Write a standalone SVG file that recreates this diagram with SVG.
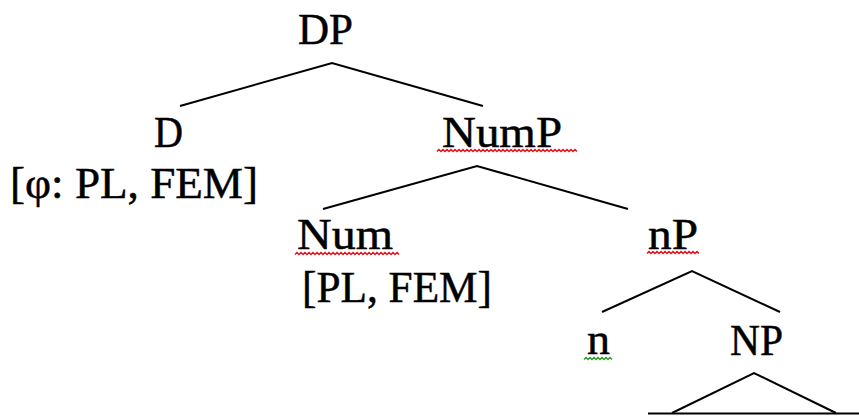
<svg xmlns="http://www.w3.org/2000/svg" width="859" height="417" viewBox="0 0 859 417">
  <style>
    text { font-family: "Liberation Serif", "DejaVu Serif", serif; font-size: 45px; fill: #000; stroke: #000; stroke-width: 0.5; }
    .edge { fill: none; stroke: #000; stroke-width: 2; stroke-linecap: butt; stroke-linejoin: miter; }
    .spell { fill: none; stroke: #e3141e; stroke-width: 1.5; }
    .gram { fill: none; stroke: #2e9a2e; stroke-width: 1.5; }
  </style>
  <rect width="859" height="417" fill="#fff"/>

  <!-- branches -->
  <g id="connectors">
    <path class="edge" d="M180,106 L332,63 L483,106"/>
    <path class="edge" d="M323,209 L477,166 L628,209"/>
    <path class="edge" d="M602,312 L692,271 L780,312"/>
    <path class="edge" d="M672,413 L754,373 L836,413"/>
    <path class="edge" d="M648,413.5 L859,413.5" stroke-width="2.5"/>
  </g>

  <g id="node-DP">
    <text x="298" y="44" textLength="55" lengthAdjust="spacingAndGlyphs">DP</text>
  </g>

  <g id="node-D">
    <text x="154" y="147" textLength="29" lengthAdjust="spacingAndGlyphs">D</text>
    <text x="10" y="198" textLength="248" lengthAdjust="spacingAndGlyphs">[φ: PL, FEM]</text>
  </g>

  <g id="node-NumP">
    <text x="442" y="147" textLength="120" lengthAdjust="spacingAndGlyphs">NumP</text>
    <path class="spell" d="M437,151.5 l2,-2 2,2 2,-2 2,2 2,-2 2,2 2,-2 2,2 2,-2 2,2 2,-2 2,2 2,-2 2,2 2,-2 2,2 2,-2 2,2 2,-2 2,2 2,-2 2,2 2,-2 2,2 2,-2 2,2 2,-2 2,2 2,-2 2,2 2,-2 2,2 2,-2 2,2 2,-2 2,2 2,-2 2,2 2,-2 2,2 2,-2 2,2 2,-2 2,2 2,-2 2,2 2,-2 2,2 2,-2 2,2 2,-2 2,2 2,-2 2,2 2,-2 2,2 2,-2 2,2 2,-2 2,2 2,-2 2,2 2,-2 2,2 2,-2 2,2 2,-2 2,2 2,-2 2,2"/>
  </g>

  <g id="node-Num">
    <text x="297" y="249" textLength="96" lengthAdjust="spacingAndGlyphs">Num</text>
    <path class="spell" d="M295,254.5 l2,-2 2,2 2,-2 2,2 2,-2 2,2 2,-2 2,2 2,-2 2,2 2,-2 2,2 2,-2 2,2 2,-2 2,2 2,-2 2,2 2,-2 2,2 2,-2 2,2 2,-2 2,2 2,-2 2,2 2,-2 2,2 2,-2 2,2 2,-2 2,2 2,-2 2,2 2,-2 2,2 2,-2 2,2 2,-2 2,2 2,-2 2,2 2,-2 2,2 2,-2 2,2 2,-2 2,2 2,-2 2,2 2,-2 2,2"/>
    <text x="302" y="302" textLength="190" lengthAdjust="spacingAndGlyphs">[PL, FEM]</text>
  </g>

  <g id="node-nP">
    <text x="648" y="249" textLength="50" lengthAdjust="spacingAndGlyphs">nP</text>
    <path class="spell" d="M647,253.5 l2,-2 2,2 2,-2 2,2 2,-2 2,2 2,-2 2,2 2,-2 2,2 2,-2 2,2 2,-2 2,2 2,-2 2,2 2,-2 2,2 2,-2 2,2 2,-2 2,2 2,-2 2,2 2,-2 2,2"/>
  </g>

  <g id="node-n">
    <text x="587" y="354" textLength="23" lengthAdjust="spacingAndGlyphs">n</text>
    <path class="gram" d="M584,359.5 l2,-2 2,2 2,-2 2,2 2,-2 2,2 2,-2 2,2 2,-2 2,2 2,-2 2,2 2,-2 2,2"/>
  </g>

  <g id="node-NP">
    <text x="730" y="355" textLength="53" lengthAdjust="spacingAndGlyphs">NP</text>
  </g>
</svg>
